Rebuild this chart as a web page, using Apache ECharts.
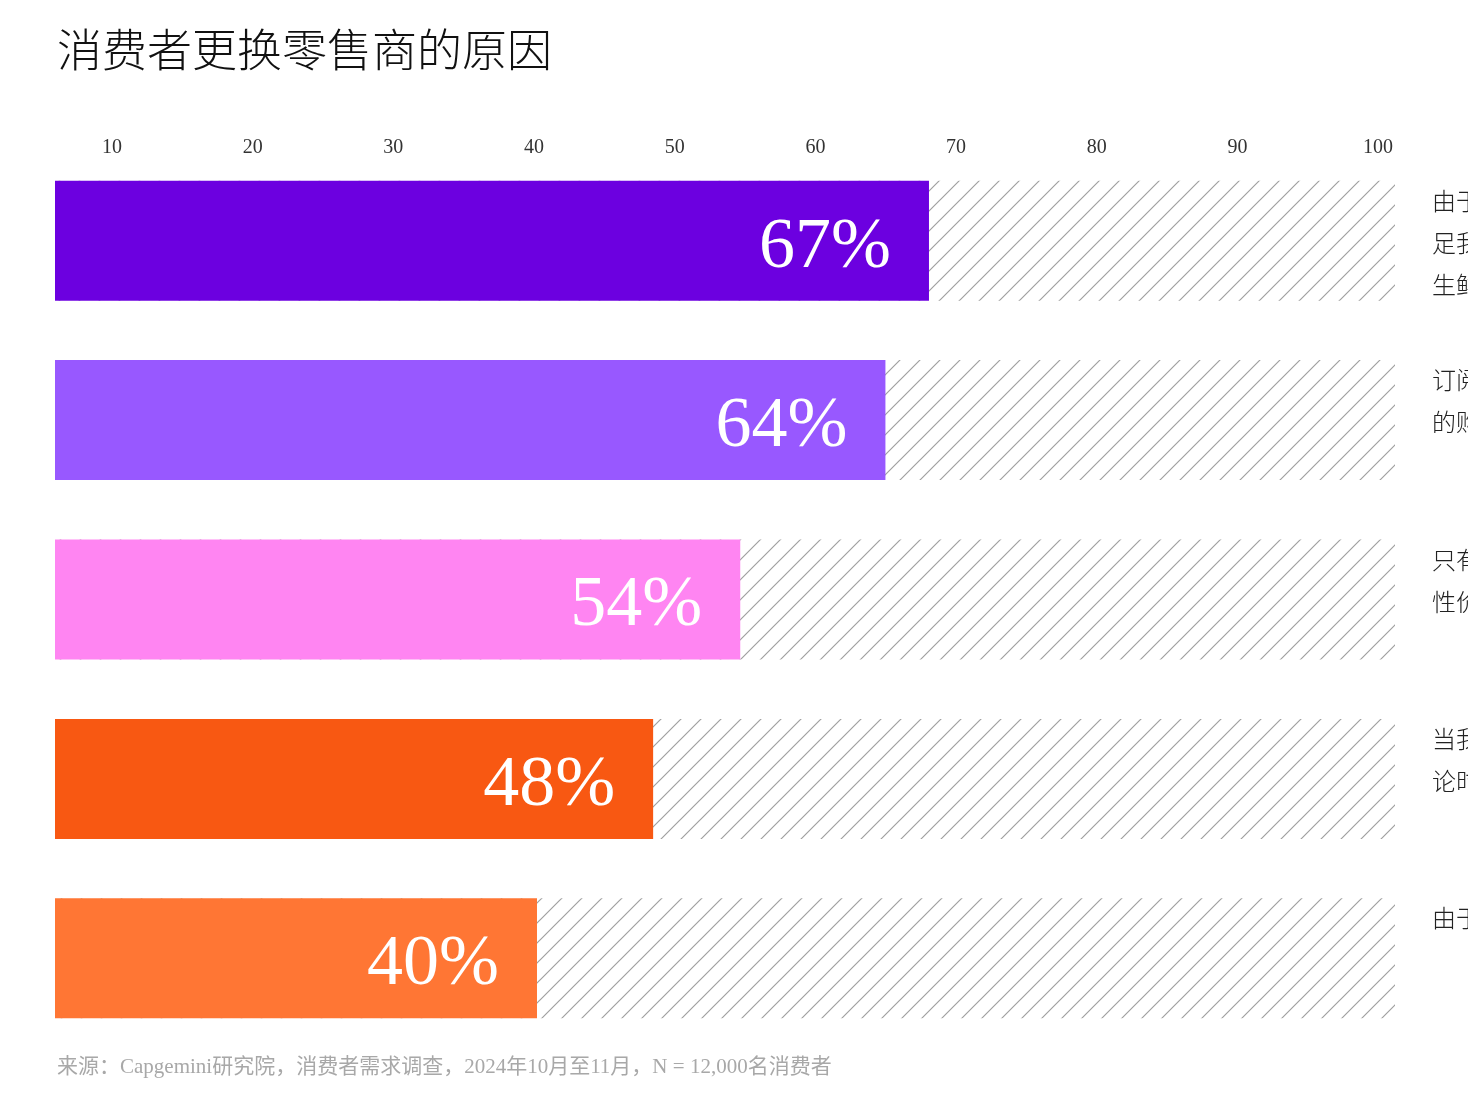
<!DOCTYPE html>
<html>
<head>
<meta charset="utf-8">
<script src="https://cdn.jsdelivr.net/npm/echarts@6/dist/echarts.min.js"></script>
<style>
html,body{margin:0;padding:0;background:#fff;}
#main{width:1468px;height:1114px;}
</style>
</head>
<body>
<div id="main"></div>
<script>
// 数据
var reasons = [
    "由于其他零售商更能满\n足我对价格和品质的要求\n生鲜产品也更新鲜",
    "订阅服务或会员计划\n的购买优惠更具吸引力",
    "只有在其他零售商的\n性价比更高时",
    "当我看到其他消费者的正面评\n论时",
    "由于其他零售商提供更好的服务"
];
var values = [67, 64, 54, 48, 40];
var barColors = ["#6c00e0", "#9858ff", "#ff85f2", "#f85812", "#ff7634"];
var tickValues = [10, 20, 30, 40, 50, 60, 70, 80, 90, 100];

var trackMax = 99.1; // 斜线底纹一直画到右边

// 斜线底纹
function hatch(){
    var c = document.createElement("canvas");
    c.width = 20; c.height = 20;
    var ctx = c.getContext("2d");
    ctx.strokeStyle = "#a0a0a0";
    ctx.lineWidth = 1.2;
    ctx.beginPath();
    ctx.moveTo(-2, 22); ctx.lineTo(22, -2);
    ctx.moveTo(-2, 2); ctx.lineTo(2, -2);
    ctx.moveTo(18, 22); ctx.lineTo(22, 18);
    ctx.stroke();
    return c;
}

var option = {
    animation:false,
    title:[{
        text:"消费者更换零售商的原因",
        left:52,
        top:22,
        textStyle:{
            fontFamily:"Noto Sans CJK SC",
            fontSize:45,
            fontWeight:300,
            color:"#111"
        }
    },{
        text:"来源：Capgemini研究院，消费者需求调查，2024年10月至11月，N = 12,000名消费者",
        left:52,
        top:1052,
        textStyle:{
            fontFamily:"Liberation Serif, Noto Sans CJK SC",
            fontSize:21,
            fontWeight:"normal",
            color:"#a8a8a8"
        }
    }],
    grid:{
        left:55,
        right:73,
        top:151,
        bottom:66
    },
    xAxis:[{
        type:"value",
        position:"top",
        min:5.95,
        max:101.2,
        axisLine:{show:false},
        axisTick:{show:false},
        splitLine:{show:false},
        axisLabel:{
            customValues:tickValues,
            verticalAlign:"middle",
            margin:3,
            fontFamily:"Liberation Serif",
            fontSize:20,
            color:"#333"
        }
    },{
        type:"value",
        min:6.8,
        max:trackMax,
        show:false
    }],
    yAxis:{
        type:"category",
        inverse:true,
        data:reasons,
        show:false
    },
    series:[{
        type:"bar",
        name:"底纹",
        xAxisIndex:1,
        barWidth:120,
        barGap:"-100%",
        silent:true,
        itemStyle:{
            color:{image:hatch(), repeat:"repeat"}
        },
        label:{
            show:true,
            position:["100%", 0],
            offset:[37, -1],
            align:"left",
            verticalAlign:"top",
            formatter:function(p){ return reasons[p.dataIndex]; },
            fontFamily:"Noto Sans CJK SC",
            fontWeight:300,
            fontSize:24,
            lineHeight:42,
            color:"#222"
        },
        data:reasons.map(function(){ return trackMax; })
    },{
        type:"bar",
        name:"比例",
        xAxisIndex:1,
        barWidth:120,
        barGap:"-100%",
        label:{
            show:true,
            position:"insideRight",
            distance:38,
            offset:[0, 7],
            formatter:"{c}%",
            fontFamily:"Liberation Serif",
            fontSize:72,
            color:"#fff"
        },
        data:values.map(function(v, i){
            return {value:v, itemStyle:{color:barColors[i]}};
        })
    }]
};

var chart = echarts.init(document.getElementById("main"));
chart.setOption(option);
</script>
</body>
</html>
